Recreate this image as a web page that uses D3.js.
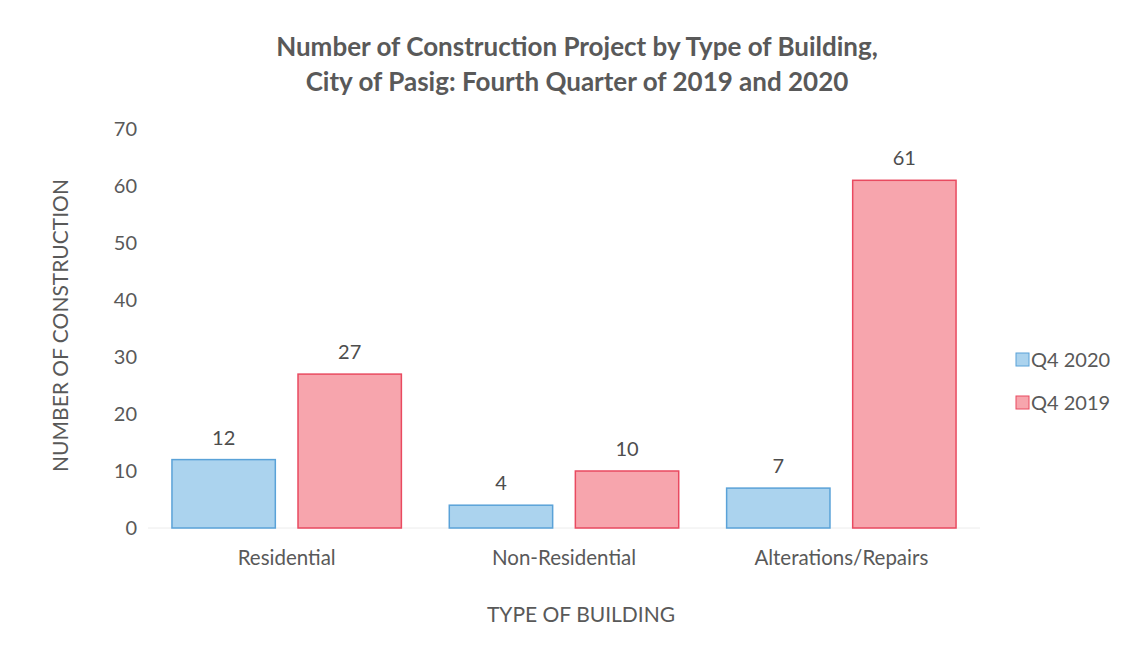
<!DOCTYPE html>
<html>
<head>
<meta charset="utf-8">
<script src="https://cdn.jsdelivr.net/npm/d3@7"></script>
<style>
  body { margin: 0; background: #fff; }
  svg { display: block; }
</style>
</head>
<body>
<script>
// chart data
const categories = ["Residential", "Non-Residential", "Alterations/Repairs"];
const seriesNames = ["Q4 2020", "Q4 2019"];
const q4_2020 = [12, 4, 7];
const q4_2019 = [27, 10, 61];
const yTicks = [0, 10, 20, 30, 40, 50, 60, 70];
const titleLines = [
    "Number of Construction Project by Type of Building,",
    "City of Pasig: Fourth Quarter of 2019 and 2020"
];

const fills = ["#abd3ee", "#f7a5ad"];
const strokes = ["#5aa2d8", "#e94a60"];
const textColor = "#595959";
const font = "Lato, 'Open Sans', sans-serif";

const width = 1127, height = 652;
const margin = {top: 129, right: 147, bottom: 124, left: 148};
const innerWidth = width - margin.left - margin.right;
const innerHeight = height - margin.top - margin.bottom;

const svg = d3.select("body")
    .append("svg")
    .attr("width", width)
    .attr("height", height)
    .attr("font-family", font);

const g = svg.append("g")
    .attr("transform", `translate(${margin.left}, ${margin.top})`);

const x0 = d3.scaleBand()
    .domain(categories)
    .range([0, innerWidth])
    .paddingInner(0)
    .paddingOuter(0);

const x1 = d3.scaleBand()
    .domain(seriesNames)
    .range([0, x0.bandwidth()])
    .paddingInner(0.18)
    .paddingOuter(0.19);

const y = d3.scaleLinear()
    .domain([0, 70])
    .range([innerHeight, 0]);

// baseline
g.append("line")
    .attr("x1", 0)
    .attr("x2", innerWidth)
    .attr("y1", y(0))
    .attr("y2", y(0))
    .attr("stroke", "#ececec")
    .attr("stroke-width", 1);

// y axis ticks
const yAxis = g.append("g")
    .call(d3.axisLeft(y).tickValues(yTicks).tickSize(0).tickPadding(11));
yAxis.select(".domain").remove();
yAxis.selectAll("text")
    .attr("font-size", 20)
    .attr("font-family", font)
    .attr("fill", textColor);

// x axis labels
const xAxis = g.append("g")
    .attr("transform", `translate(0, ${innerHeight})`)
    .call(d3.axisBottom(x0).tickSize(0).tickPadding(22));
xAxis.select(".domain").remove();
xAxis.selectAll("text")
    .attr("font-size", 20.5)
    .attr("font-family", font)
    .attr("fill", textColor);

const rows = categories.map((c, i) => ({
    category: c,
    values: [
        {series: seriesNames[0], value: q4_2020[i], idx: 0},
        {series: seriesNames[1], value: q4_2019[i], idx: 1}
    ]
}));

const groups = g.selectAll(".cat")
    .data(rows)
    .enter()
    .append("g")
    .attr("transform", d => `translate(${x0(d.category)}, 0)`);

groups.selectAll("rect")
    .data(d => d.values)
    .enter()
    .append("rect")
    .attr("x", d => x1(d.series))
    .attr("y", d => y(d.value))
    .attr("width", x1.bandwidth())
    .attr("height", d => y(0) - y(d.value))
    .attr("fill", d => fills[d.idx])
    .attr("stroke", d => strokes[d.idx])
    .attr("stroke-width", 1.5);

groups.selectAll("text.val")
    .data(d => d.values)
    .enter()
    .append("text")
    .attr("class", "val")
    .attr("x", d => x1(d.series) + x1.bandwidth() / 2)
    .attr("y", d => y(d.value) - 15)
    .attr("text-anchor", "middle")
    .attr("font-size", 20)
    .attr("fill", "#4d4d4d")
    .text(d => d.value);

// title
svg.append("g")
    .selectAll("text")
    .data(titleLines)
    .enter()
    .append("text")
    .attr("x", 577)
    .attr("y", (d, i) => 56 + i * 35)
    .attr("text-anchor", "middle")
    .attr("font-size", 26)
    .attr("font-weight", "bold")
    .attr("fill", textColor)
    .text(d => d);

// axis titles
svg.append("text")
    .attr("transform", `translate(68, ${margin.top + innerHeight / 2 - 3}) rotate(-90)`)
    .attr("text-anchor", "middle")
    .attr("font-size", 21)
    .attr("fill", textColor)
    .text("NUMBER OF CONSTRUCTION");

svg.append("text")
    .attr("x", 581)
    .attr("y", 622)
    .attr("text-anchor", "middle")
    .attr("font-size", 21)
    .attr("fill", textColor)
    .text("TYPE OF BUILDING");

// legend
const legend = svg.append("g")
    .attr("transform", "translate(1016, 353)");
const li = legend.selectAll("g")
    .data(seriesNames)
    .enter()
    .append("g")
    .attr("transform", (d, i) => `translate(0, ${i * 43})`);
li.append("rect")
    .attr("width", 13)
    .attr("height", 13)
    .attr("fill", (d, i) => fills[i])
    .attr("stroke", (d, i) => strokes[i])
    .attr("stroke-width", 1);
li.append("text")
    .attr("x", 15)
    .attr("y", 14)
    .attr("font-size", 20)
    .attr("fill", textColor)
    .text(d => d);
</script>
</body>
</html>
